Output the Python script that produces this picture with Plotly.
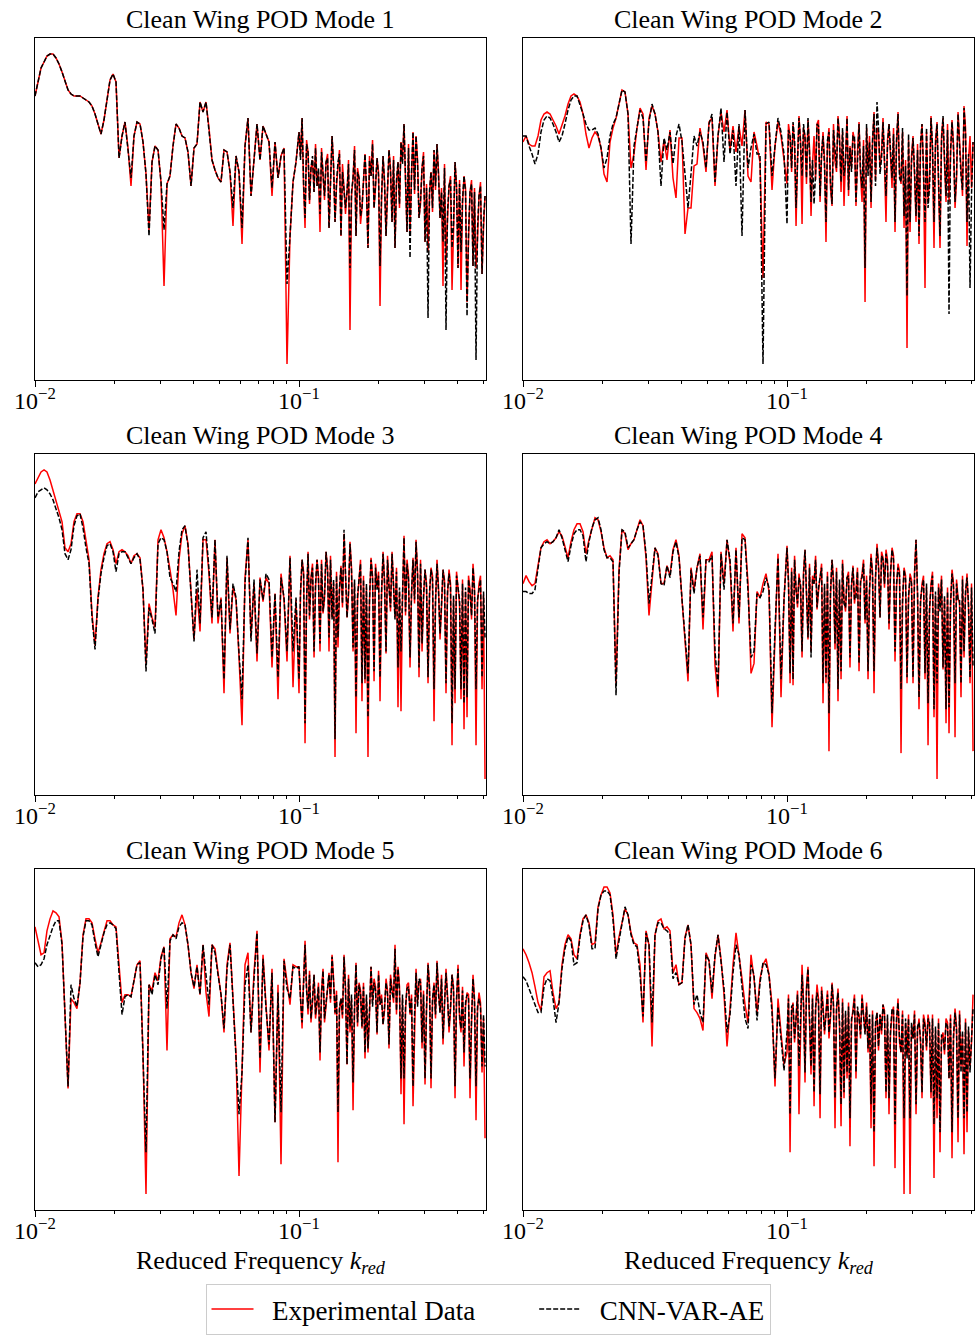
import math
import plotly.graph_objects as go

# Reduced frequency bins (shared by every panel)
k_red = [
    0.01000, 0.01027, 0.01054, 0.01082, 0.01110, 0.01140, 0.01170, 0.01201, 0.01233, 0.01266,
    0.01299, 0.01334, 0.01369, 0.01405, 0.01442, 0.01481, 0.01520, 0.01560, 0.01602, 0.01644,
    0.01688, 0.01732, 0.01778, 0.01825, 0.01874, 0.01924, 0.01975, 0.02027, 0.02081, 0.02136,
    0.02192, 0.02251, 0.02310, 0.02371, 0.02434, 0.02499, 0.02565, 0.02633, 0.02703, 0.02775,
    0.02848, 0.02924, 0.03001, 0.03081, 0.03162, 0.03246, 0.03332, 0.03421, 0.03511, 0.03604,
    0.03700, 0.03798, 0.03899, 0.04002, 0.04108, 0.04217, 0.04329, 0.04444, 0.04561, 0.04682,
    0.04806, 0.04934, 0.05065, 0.05199, 0.05337, 0.05478, 0.05623, 0.05773, 0.05926, 0.06083,
    0.06244, 0.06409, 0.06579, 0.06754, 0.06933, 0.07117, 0.07305, 0.07499, 0.07698, 0.07902,
    0.08111, 0.08326, 0.08547, 0.08774, 0.09006, 0.09245, 0.09490, 0.09742,
    0.1000, 0.1027, 0.1054, 0.1082, 0.1110, 0.1140, 0.1170, 0.1201, 0.1233, 0.1266,
    0.1299, 0.1334, 0.1369, 0.1405, 0.1442, 0.1481, 0.1520, 0.1560, 0.1602, 0.1644,
    0.1688, 0.1732, 0.1778, 0.1825, 0.1874, 0.1924, 0.1975, 0.2027, 0.2081, 0.2136,
    0.2192, 0.2251, 0.2310, 0.2371, 0.2434, 0.2499, 0.2565, 0.2633, 0.2703, 0.2775,
    0.2848, 0.2924, 0.3001, 0.3081, 0.3162, 0.3246, 0.3332, 0.3421, 0.3511, 0.3604,
    0.3700, 0.3798, 0.3899, 0.4002, 0.4108, 0.4217, 0.4329, 0.4444, 0.4561, 0.4682,
    0.4806, 0.4934, 0.5065,
]

# Extra bins in the dense high-frequency band
k_red_hf = [
    0.1013, 0.1041, 0.1068, 0.1096, 0.1125, 0.1155, 0.1185, 0.1217, 0.1249, 0.1283,
    0.1316, 0.1352, 0.1387, 0.1423, 0.1461, 0.1500, 0.1540, 0.1581, 0.1623, 0.1666,
    0.1710, 0.1755, 0.1801, 0.1849, 0.1899, 0.1949, 0.2001, 0.2054, 0.2108, 0.2164,
    0.2221, 0.2281, 0.2340, 0.2402, 0.2466, 0.2532, 0.2599, 0.2668, 0.2739, 0.2812,
    0.2886, 0.2962, 0.3041, 0.3122, 0.3204, 0.3289, 0.3376, 0.3466, 0.3557, 0.3651,
    0.3749, 0.3848, 0.3950, 0.4055, 0.4162, 0.4273, 0.4386, 0.4503, 0.4621, 0.4744,
    0.4869, 0.4999,
]

# Log-magnitude spectra (arbitrary offset, relative units)
mode1_exp = [
    142, 149, 156, 159, 162, 163, 163, 161, 158, 154, 149, 145, 143, 142, 142,
    142, 141, 140, 139, 137, 133, 128, 123, 130, 141, 150, 153, 149, 111, 122,
    129, 116, 97, 122, 129, 128, 119, 103, 75, 109, 117, 115, 99, 47, 98,
    102, 117, 128, 126, 122, 121, 114, 97, 116, 118, 139, 134, 139, 126, 110,
    105, 101, 99, 115, 114, 104, 77, 112, 104, 68, 117, 131, 92, 109, 128,
    110, 127, 123, 119, 92, 119, 101, 112, 116, 8, 72, 99, 109, 124, 131,
    76, 114, 106, 94, 97, 74, 102, 109, 76, 122, 79, 109, 72, 96, 94,
    25, 101, 72, 101, 86, 113, 66, 102, 86, 111, 37, 112, 72, 115, 79,
    66, 109, 119, 128, 74, 74, 124, 122, 81, 106, 69, 64, 104, 115, 118,
    81, 47, 59, 97, 45, 109, 56, 45, 102, 39, 94, 57, 56, 92, 53,
    92,
]
mode1_exp_hf = [
    112, 96, 120, 88, 110, 118, 104, 116, 90, 113, 100, 108, 97, 115, 108,
    83, 110, 92, 117, 106, 78, 104, 95, 112, 120, 96, 104, 90, 100, 94,
    106, 112, 98, 86, 110, 99, 118, 102, 93, 110, 88, 114, 98, 93, 84,
    95, 104, 96, 108, 80, 102, 74, 98, 100, 88, 96, 70, 100, 96, 70,
    99, 76,
]
mode1_cnn = [
    142, 149, 156, 159, 162, 163, 163, 161, 158, 154, 149, 145, 143, 142, 142,
    142, 141, 140, 139, 137, 133, 128, 123, 130, 141, 150, 153, 149, 111, 122,
    129, 116, 101, 122, 129, 128, 119, 103, 72, 109, 117, 115, 99, 75, 98,
    102, 117, 128, 126, 122, 121, 114, 97, 116, 118, 139, 134, 139, 126, 110,
    105, 101, 99, 115, 114, 104, 86, 112, 104, 76, 117, 131, 92, 109, 128,
    110, 127, 123, 119, 96, 119, 101, 112, 116, 48, 72, 99, 109, 124, 131,
    81, 114, 106, 94, 97, 83, 102, 109, 76, 122, 79, 109, 72, 96, 94,
    56, 101, 72, 101, 86, 113, 66, 102, 86, 111, 57, 112, 72, 115, 79,
    66, 109, 119, 128, 74, 61, 124, 122, 81, 106, 69, 31, 104, 115, 118,
    81, 69, 25, 97, 66, 109, 56, 64, 102, 32, 94, 57, 10, 92, 53,
    92,
]
mode1_cnn_hf = [
    110, 98, 118, 90, 112, 116, 106, 114, 92, 111, 102, 106, 99, 113, 104,
    86, 108, 94, 115, 104, 82, 102, 97, 110, 118, 98, 102, 92, 98, 96,
    104, 110, 100, 88, 108, 101, 116, 104, 95, 108, 90, 112, 96, 95, 86,
    97, 102, 94, 106, 84, 100, 78, 96, 98, 90, 94, 74, 98, 94, 76,
    97, 80,
]

mode2_exp = [
    119, 122, 118, 117, 117, 122, 130, 133, 134, 133, 130, 127, 123, 127, 132,
    138, 142, 143, 142, 139, 133, 123, 116, 121, 124, 122, 116, 103, 99, 119,
    126, 131, 139, 145, 144, 133, 106, 113, 126, 136, 133, 105, 131, 137, 133,
    124, 109, 120, 110, 125, 101, 91, 121, 121, 73, 86, 86, 107, 108, 126,
    117, 104, 129, 131, 97, 122, 134, 124, 135, 115, 127, 114, 127, 117, 135,
    102, 99, 124, 117, 109, 51, 129, 128, 95, 117, 129, 122, 109, 98, 122,
    128, 77, 132, 78, 122, 130, 82, 122, 128, 89, 124, 69, 126, 87, 109,
    132, 94, 87, 132, 117, 124, 87, 129, 89, 39, 106, 86, 134, 126, 106,
    131, 79, 128, 96, 74, 134, 98, 76, 16, 74, 122, 79, 68, 128, 46,
    89, 132, 66, 129, 66, 131, 89, 89, 130, 86, 134, 106, 137, 67, 122,
    119,
]
mode2_exp_hf = [
    128, 104, 118, 110, 120, 126, 98, 116, 108, 100, 130, 112, 110, 118, 96,
    128, 104, 122, 124, 112, 92, 106, 120, 114, 102, 120, 126, 122, 118, 100,
    124, 114, 108, 120, 112, 126, 118, 104, 124, 110, 120, 112, 102, 118, 116,
    106, 124, 100, 114, 120, 98, 122, 108, 128, 112, 118, 100, 120, 92, 126,
    110, 96,
]
mode2_cnn = [
    122, 122, 117, 113, 108, 113, 124, 130, 132, 131, 128, 124, 119, 122, 128,
    135, 140, 142, 142, 138, 133, 128, 125, 125, 126, 123, 116, 106, 111, 122,
    128, 131, 139, 145, 144, 133, 68, 117, 126, 135, 131, 109, 129, 138, 133,
    124, 97, 121, 115, 124, 108, 122, 128, 119, 103, 86, 103, 122, 117, 124,
    119, 106, 128, 133, 99, 122, 136, 109, 134, 113, 125, 97, 128, 72, 135,
    106, 116, 123, 113, 113, 8, 128, 129, 102, 117, 131, 124, 113, 78, 122,
    129, 86, 131, 102, 121, 131, 89, 88, 128, 92, 122, 79, 124, 88, 113,
    131, 99, 102, 131, 116, 122, 89, 128, 96, 56, 102, 89, 133, 139, 103,
    129, 92, 128, 101, 79, 133, 99, 82, 42, 79, 121, 82, 72, 128, 79,
    86, 131, 79, 128, 72, 132, 92, 33, 129, 89, 133, 102, 136, 79, 46,
    119,
]
mode2_cnn_hf = [
    125, 106, 120, 108, 118, 128, 101, 113, 110, 103, 127, 114, 107, 120, 99,
    125, 106, 119, 126, 109, 95, 104, 122, 111, 105, 117, 128, 119, 120, 97,
    126, 111, 110, 117, 115, 123, 120, 101, 126, 107, 123, 109, 105, 115, 119,
    103, 126, 97, 117, 117, 101, 119, 111, 125, 115, 115, 103, 117, 95, 123,
    113, 93,
]

mode3_exp = [
    156, 159, 162, 163, 162, 158, 153, 148, 142, 137, 124, 122, 126, 137, 141,
    141, 137, 128, 118, 91, 75, 99, 113, 121, 126, 127, 123, 116, 122, 123,
    122, 120, 116, 120, 121, 119, 103, 66, 96, 89, 84, 128, 133, 129, 122,
    113, 103, 90, 118, 131, 135, 126, 103, 78, 103, 82, 128, 128, 111, 86,
    128, 86, 99, 51, 119, 81, 104, 98, 69, 35, 109, 128, 79, 106, 67,
    109, 97, 109, 106, 64, 101, 48, 111, 98, 67, 120, 54, 98, 51, 118,
    26, 122, 109, 69, 118, 72, 91, 122, 72, 89, 19, 74, 115, 131, 89,
    127, 72, 31, 108, 47, 56, 19, 119, 57, 104, 47, 122, 71, 106, 122,
    89, 44, 42, 130, 118, 64, 119, 128, 59, 72, 113, 56, 114, 37, 118,
    78, 113, 51, 113, 25, 46, 103, 48, 33, 39, 103, 116, 25, 106, 53,
    8,
]
mode3_exp_hf = [
    100, 112, 96, 88, 116, 104, 110, 118, 98, 114, 120, 106, 112, 102, 94,
    112, 100, 114, 106, 98, 118, 110, 104, 96, 110, 116, 112, 100, 108, 120,
    92, 108, 114, 102, 98, 90, 110, 100, 96, 112, 118, 98, 106, 100, 110,
    96, 104, 94, 108, 100, 106, 98, 112, 96, 108, 102, 110, 88, 104, 96,
    110, 100,
]
mode3_cnn = [
    149, 152, 153, 154, 153, 151, 148, 144, 139, 133, 121, 118, 123, 135, 140,
    141, 134, 124, 116, 89, 73, 98, 111, 119, 125, 126, 122, 112, 121, 122,
    122, 119, 116, 119, 121, 118, 103, 62, 94, 88, 81, 126, 129, 128, 122,
    109, 106, 102, 122, 133, 135, 125, 103, 77, 113, 86, 129, 132, 113, 89,
    128, 89, 98, 58, 120, 83, 106, 99, 71, 48, 106, 129, 77, 108, 71,
    108, 98, 111, 108, 69, 101, 59, 109, 99, 72, 119, 72, 99, 58, 118,
    36, 121, 108, 72, 118, 76, 92, 122, 79, 88, 28, 79, 114, 133, 89,
    126, 74, 49, 108, 56, 58, 39, 118, 62, 103, 59, 121, 72, 104, 121,
    88, 64, 72, 129, 116, 69, 118, 127, 64, 76, 113, 59, 113, 53, 116,
    81, 113, 56, 111, 36, 53, 103, 53, 46, 49, 101, 114, 53, 103, 59,
    79,
]
mode3_cnn_hf = [
    102, 110, 98, 90, 114, 106, 108, 116, 100, 112, 118, 108, 110, 104, 96,
    110, 102, 112, 108, 100, 116, 108, 106, 98, 108, 114, 110, 102, 106, 118,
    94, 106, 112, 104, 100, 92, 108, 102, 98, 110, 116, 100, 104, 102, 108,
    98, 102, 96, 106, 102, 104, 100, 110, 98, 106, 104, 108, 90, 102, 98,
    108, 102,
]

mode4_exp = [
    106, 110, 107, 105, 106, 116, 124, 127, 128, 126, 127, 129, 132, 130, 125,
    119, 127, 133, 136, 136, 132, 121, 128, 134, 139, 138, 132, 124, 119, 120,
    118, 56, 113, 133, 131, 123, 126, 128, 133, 138, 135, 119, 90, 109, 124,
    121, 106, 106, 115, 110, 123, 128, 120, 98, 76, 57, 114, 103, 114, 121,
    83, 118, 118, 122, 65, 49, 122, 106, 128, 116, 82, 124, 86, 131, 129,
    106, 61, 66, 102, 99, 106, 111, 102, 34, 79, 121, 49, 98, 125, 56,
    55, 103, 111, 69, 123, 78, 72, 106, 93, 111, 46, 56, 22, 118, 73,
    47, 58, 98, 109, 64, 115, 103, 62, 111, 86, 58, 121, 51, 126, 89,
    119, 123, 83, 124, 67, 116, 21, 114, 56, 111, 56, 128, 43, 106, 58,
    25, 106, 39, 8, 94, 63, 36, 31, 113, 29, 99, 49, 69, 111, 56,
    22,
]
mode4_exp_hf = [
    108, 114, 120, 94, 104, 112, 100, 116, 110, 120, 102, 116, 104, 112, 100,
    108, 114, 106, 118, 92, 112, 104, 96, 114, 106, 118, 110, 102, 112, 108,
    116, 122, 104, 118, 110, 120, 104, 112, 96, 110, 98, 108, 112, 100, 96,
    110, 104, 92, 112, 100, 106, 110, 98, 104, 94, 106, 108, 96, 110, 100,
    94, 106,
]
mode4_cnn = [
    102, 102, 101, 101, 103, 114, 124, 126, 127, 126, 127, 129, 133, 129, 123,
    117, 125, 131, 133, 133, 130, 117, 127, 134, 138, 139, 133, 123, 119, 119,
    117, 50, 111, 133, 132, 124, 126, 128, 133, 137, 135, 121, 96, 111, 124,
    120, 106, 105, 115, 109, 122, 127, 119, 98, 79, 61, 113, 101, 114, 120,
    89, 118, 117, 120, 72, 54, 121, 103, 128, 118, 86, 123, 89, 129, 128,
    102, 69, 72, 101, 99, 102, 109, 104, 41, 83, 119, 58, 98, 124, 61,
    58, 103, 109, 72, 123, 79, 69, 106, 94, 109, 56, 59, 41, 118, 76,
    53, 62, 96, 109, 69, 114, 99, 66, 109, 88, 62, 119, 62, 124, 89,
    118, 121, 86, 123, 72, 114, 53, 113, 59, 109, 59, 128, 49, 104, 61,
    46, 104, 43, 56, 92, 64, 43, 44, 111, 56, 98, 56, 72, 109, 59,
    64,
]
mode4_cnn_hf = [
    106, 112, 118, 96, 106, 110, 102, 114, 108, 118, 104, 114, 106, 110, 102,
    106, 112, 108, 116, 94, 110, 106, 98, 112, 108, 116, 108, 104, 110, 110,
    114, 120, 106, 116, 112, 118, 106, 110, 98, 108, 100, 106, 110, 102, 98,
    108, 106, 94, 110, 102, 104, 108, 100, 102, 96, 104, 106, 98, 108, 102,
    96, 104,
]

mode5_exp = [
    142, 135, 128, 129, 140, 146, 150, 149, 147, 134, 98, 61, 106, 104, 101,
    114, 138, 146, 146, 144, 136, 129, 134, 140, 145, 145, 143, 142, 124, 104,
    108, 108, 107, 115, 123, 125, 79, 8, 113, 110, 119, 115, 127, 132, 80,
    136, 138, 137, 144, 148, 143, 133, 119, 111, 123, 108, 133, 109, 97, 133,
    131, 119, 108, 89, 123, 134, 109, 78, 17, 73, 123, 129, 89, 119, 140,
    69, 128, 103, 80, 121, 44, 113, 23, 126, 113, 103, 123, 122, 122, 91,
    135, 98, 94, 118, 103, 75, 121, 103, 119, 128, 98, 24, 106, 128, 73,
    89, 50, 124, 114, 91, 76, 79, 122, 116, 88, 103, 93, 116, 81, 109,
    133, 122, 58, 43, 113, 98, 52, 121, 114, 81, 63, 124, 61, 114, 125,
    99, 83, 121, 89, 118, 56, 123, 89, 72, 109, 56, 118, 45, 109, 69,
    36,
]
mode5_exp_hf = [
    108, 116, 112, 120, 104, 96, 114, 110, 94, 112, 104, 116, 110, 100, 96,
    112, 118, 106, 100, 92, 110, 114, 106, 98, 104, 112, 120, 108, 100, 110,
    118, 104, 98, 112, 106, 100, 114, 108, 96, 104, 116, 110, 100, 112, 104,
    96, 110, 118, 102, 108, 100, 112, 104, 96, 112, 102, 108, 94, 106, 100,
    104, 96,
]
mode5_cnn = [
    124, 122, 123, 126, 133, 138, 142, 145, 145, 133, 101, 62, 113, 106, 102,
    114, 137, 145, 145, 143, 134, 127, 133, 139, 143, 144, 143, 141, 119, 98,
    107, 108, 107, 115, 123, 124, 79, 29, 113, 108, 118, 113, 126, 132, 101,
    135, 138, 136, 142, 144, 143, 133, 119, 112, 122, 108, 133, 118, 103, 133,
    129, 118, 108, 91, 121, 133, 106, 78, 48, 69, 113, 123, 89, 116, 139,
    76, 126, 101, 83, 119, 44, 109, 49, 125, 111, 106, 122, 121, 122, 94,
    133, 101, 96, 118, 104, 79, 120, 104, 118, 127, 99, 49, 106, 127, 73,
    92, 64, 123, 113, 92, 79, 81, 122, 114, 89, 103, 93, 114, 83, 109,
    131, 121, 66, 66, 111, 99, 62, 119, 116, 84, 66, 123, 66, 113, 124,
    99, 86, 119, 92, 118, 62, 121, 91, 79, 108, 66, 116, 62, 106, 72,
    72,
]
mode5_cnn_hf = [
    106, 114, 110, 118, 106, 98, 112, 108, 96, 110, 106, 114, 108, 102, 98,
    110, 116, 108, 102, 94, 108, 112, 108, 100, 102, 110, 118, 106, 102, 108,
    116, 106, 100, 110, 108, 102, 112, 106, 98, 102, 114, 108, 102, 110, 106,
    98, 108, 116, 104, 106, 102, 110, 106, 98, 110, 104, 106, 96, 104, 102,
    102, 98,
]

mode6_exp = [
    131, 128, 124, 119, 112, 104, 100, 117, 119, 120, 109, 101, 104, 123, 133,
    138, 136, 128, 126, 138, 146, 148, 144, 133, 134, 152, 158, 162, 162, 159,
    148, 128, 137, 145, 151, 148, 139, 134, 133, 123, 94, 140, 133, 82, 138,
    145, 146, 141, 142, 140, 119, 123, 113, 114, 137, 143, 133, 101, 99, 96,
    90, 129, 125, 106, 127, 138, 126, 108, 82, 101, 123, 139, 128, 116, 103,
    94, 128, 116, 99, 116, 123, 126, 118, 103, 62, 106, 89, 73, 79, 29,
    104, 96, 48, 123, 64, 122, 68, 52, 113, 46, 103, 99, 86, 114, 41,
    111, 42, 56, 66, 32, 101, 66, 98, 108, 89, 79, 41, 22, 99, 98,
    103, 56, 48, 99, 21, 106, 79, 8, 78, 8, 86, 48, 96, 56, 94,
    98, 56, 16, 46, 29, 89, 96, 66, 26, 101, 34, 72, 28, 39, 72,
    108,
]
mode6_exp_hf = [
    108, 100, 84, 110, 98, 104, 112, 94, 108, 100, 106, 112, 88, 110, 96,
    104, 100, 92, 106, 98, 104, 94, 108, 100, 86, 96, 104, 96, 100, 92,
    80, 88, 100, 96, 88, 102, 94, 84, 100, 94, 98, 92, 100, 90, 84,
    98, 80, 92, 98, 90, 96, 86, 78, 94, 98, 86, 92, 100, 88, 96,
    90, 84,
]
mode6_cnn = [
    117, 115, 111, 107, 103, 99, 99, 112, 116, 115, 106, 94, 104, 121, 131,
    137, 135, 123, 124, 137, 145, 148, 143, 131, 131, 151, 158, 160, 160, 158,
    146, 126, 135, 144, 152, 148, 138, 133, 132, 118, 97, 139, 133, 94, 138,
    144, 144, 141, 140, 138, 116, 119, 113, 114, 136, 143, 133, 103, 108, 99,
    94, 128, 125, 109, 128, 138, 126, 111, 89, 98, 119, 133, 128, 113, 96,
    91, 123, 118, 95, 114, 124, 123, 118, 99, 66, 102, 86, 70, 89, 48,
    103, 96, 72, 118, 69, 121, 72, 59, 109, 58, 99, 98, 89, 113, 56,
    109, 53, 59, 69, 46, 99, 69, 96, 106, 88, 81, 53, 39, 99, 98,
    103, 59, 56, 101, 43, 104, 79, 46, 76, 46, 86, 53, 94, 59, 92,
    96, 59, 43, 56, 39, 86, 94, 66, 39, 99, 46, 69, 46, 49, 69,
    101,
]
mode6_cnn_hf = [
    106, 102, 86, 108, 100, 102, 110, 96, 106, 102, 104, 110, 90, 108, 98,
    102, 102, 94, 104, 100, 102, 96, 106, 102, 88, 98, 102, 98, 98, 94,
    82, 90, 98, 98, 90, 100, 96, 86, 98, 96, 96, 94, 98, 92, 86,
    96, 82, 94, 96, 92, 94, 88, 80, 92, 96, 88, 90, 98, 90, 94,
    92, 86,
]

titles = [f"Clean Wing POD Mode {m}" for m in range(1, 7)]
series = [
    ((mode1_exp, mode1_exp_hf), (mode1_cnn, mode1_cnn_hf)),
    ((mode2_exp, mode2_exp_hf), (mode2_cnn, mode2_cnn_hf)),
    ((mode3_exp, mode3_exp_hf), (mode3_cnn, mode3_cnn_hf)),
    ((mode4_exp, mode4_exp_hf), (mode4_cnn, mode4_cnn_hf)),
    ((mode5_exp, mode5_exp_hf), (mode5_cnn, mode5_cnn_hf)),
    ((mode6_exp, mode6_exp_hf), (mode6_cnn, mode6_cnn_hf)),
]


def spectrum(main, hf):
    """Merge the coarse and high-frequency bins into one sorted spectrum."""
    if len(main) != len(k_red) or len(hf) != len(k_red_hf):
        raise ValueError(f"length mismatch: {len(main)}/{len(k_red)}, {len(hf)}/{len(k_red_hf)}")
    pts = sorted(zip(k_red + k_red_hf, main + hf))
    return [p[0] for p in pts], [p[1] for p in pts]


W, H = 976, 1335
FONT = "Liberation Serif"
NBSP = "\u00a0"
cols = [(35, 486), (523, 974)]
rows = [(38, 380), (454, 795), (869, 1210)]

major_ticks = [0.01, 0.1]
major_text = ["10<sup>\u22122</sup>", "10<sup>\u22121</sup>"]
minor_ticks = [0.02, 0.03, 0.04, 0.05, 0.06, 0.07, 0.08, 0.09, 0.2, 0.3, 0.4, 0.5]

fig = go.Figure()
annotations = []
for n, (title, (exp, cnn)) in enumerate(zip(titles, series)):
    r, c = divmod(n, 2)
    suffix = "" if n == 0 else str(n + 1)
    xa, ya = "x" + suffix, "y" + suffix
    kx, ey = spectrum(*exp)
    kc, cy = spectrum(*cnn)
    fig.add_trace(go.Scatter(
        x=kx, y=ey, mode="lines",
        name=NBSP * 2 + "Experimental Data" + NBSP * 8,
        line=dict(color="#ff0000", width=1.5),
        showlegend=(n == 0), xaxis=xa, yaxis=ya))
    fig.add_trace(go.Scatter(
        x=kc, y=cy, mode="lines",
        name=NBSP * 2 + "CNN-VAR-AE",
        line=dict(color="black", width=1.5, dash="5px,2px"),
        showlegend=(n == 0), xaxis=xa, yaxis=ya))

    x0, x1 = cols[c]
    y0, y1 = rows[r]
    fig.layout["xaxis" + suffix] = dict(
        domain=[x0 / W, x1 / W], anchor=ya, type="log", automargin=False,
        range=[-2, math.log10(0.5108)],
        tickmode="array", tickvals=major_ticks, showticklabels=False,
        ticks="outside", ticklen=6, tickwidth=1, tickcolor="black",
        minor=dict(tickmode="array", tickvals=minor_ticks, ticks="outside",
                   ticklen=3, tickwidth=1, tickcolor="black", showgrid=False),
        showline=True, mirror=True, linecolor="black", linewidth=1,
        showgrid=False, zeroline=False)
    fig.layout["yaxis" + suffix] = dict(
        domain=[1 - y1 / H, 1 - y0 / H], anchor=xa, range=[0, 171],
        automargin=False, showticklabels=False, ticks="",
        showline=True, mirror=True, linecolor="black", linewidth=1,
        showgrid=False, zeroline=False)

    # decade labels under the major ticks
    for val, txt in zip(major_ticks, major_text):
        annotations.append(dict(
            text=txt, xref=xa, yref="paper",
            x=math.log10(val), y=1 - (y1 + 2) / H,
            xanchor="center", yanchor="top", showarrow=False,
            font=dict(family=FONT, size=24, color="black")))

    annotations.append(dict(
        text=title, xref="paper", yref="paper",
        x=(x0 + x1) / 2 / W, y=1 - (y0 - 2) / H,
        xanchor="center", yanchor="bottom", showarrow=False,
        font=dict(family=FONT, size=26, color="black")))
    if r == 2:
        annotations.append(dict(
            text="Reduced Frequency <i>k</i><sub><i>red</i></sub>",
            xref="paper", yref="paper",
            x=(x0 + x1) / 2 / W, y=1 - 1262 / H,
            xanchor="center", yanchor="middle", showarrow=False,
            font=dict(family=FONT, size=26, color="black")))

fig.update_layout(
    width=W, height=H,
    margin=dict(l=0, r=0, t=0, b=0, autoexpand=False),
    paper_bgcolor="white", plot_bgcolor="white",
    annotations=annotations,
    showlegend=True,
    legend=dict(
        orientation="h", x=0.5, xanchor="center",
        y=0, yanchor="bottom",
        bgcolor="white", bordercolor="#cccccc", borderwidth=1,
        itemwidth=42,
        font=dict(family=FONT, size=27, color="black")),
)

fig.write_html("out.html")
